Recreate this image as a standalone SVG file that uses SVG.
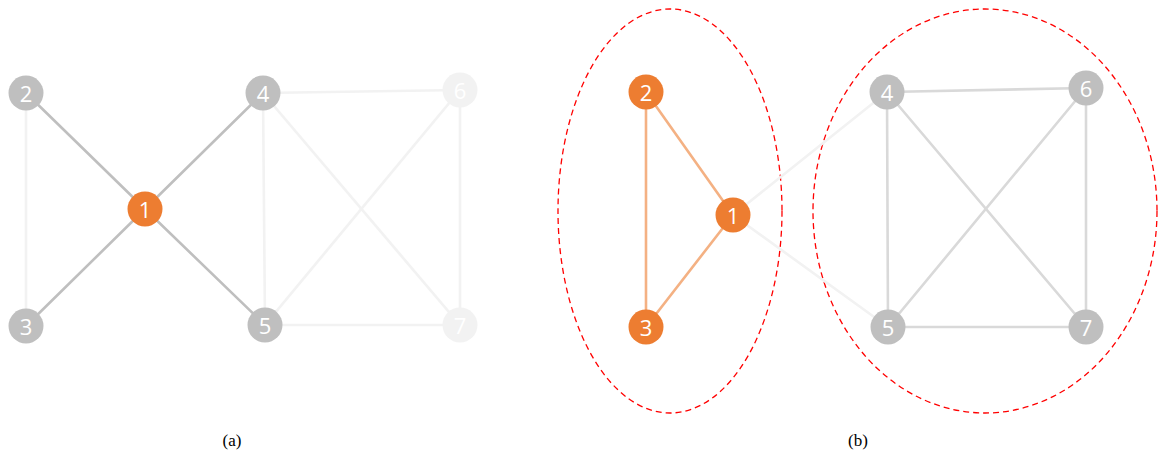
<svg xmlns="http://www.w3.org/2000/svg" width="1159" height="456" viewBox="0 0 1159 456">
  <style>
    .num { font-family: "Open Sans", "Liberation Sans", sans-serif; font-size: 22px; fill: #ffffff; text-anchor: middle; dominant-baseline: central; }
    .cap { font-family: "Liberation Serif", serif; font-size: 17px; fill: #000000; text-anchor: middle; }
    .e { stroke-width: 2.6; fill: none; stroke-linecap: round; }
    .dark { stroke: #bfbfbf; }
    .pale { stroke: #f2f2f2; }
    .mid { stroke: #d9d9d9; }
    .peach { stroke: #f4b183; }
    .n-orange { fill: #ed7d31; }
    .n-grey { fill: #bfbfbf; }
    .n-pale { fill: #f2f2f2; }
    .group { fill: none; stroke: #ff0000; stroke-width: 1.3; stroke-dasharray: 6 4; }
  </style>
  <rect width="1159" height="456" fill="#ffffff"/>

  <!-- panel (a): edges -->
  <g id="edges-a">
    <line class="e pale" x1="26" y1="93" x2="26" y2="326"/>
    <line class="e pale" x1="263" y1="93" x2="460" y2="90"/>
    <line class="e pale" x1="263" y1="93" x2="265" y2="325"/>
    <line class="e pale" x1="263" y1="93" x2="460" y2="325"/>
    <line class="e pale" x1="265" y1="325" x2="460" y2="90"/>
    <line class="e pale" x1="265" y1="325" x2="460" y2="325"/>
    <line class="e pale" x1="460" y1="90" x2="460" y2="325"/>
    <line class="e dark" x1="26" y1="93" x2="145" y2="209"/>
    <line class="e dark" x1="26" y1="326" x2="145" y2="209"/>
    <line class="e dark" x1="263" y1="93" x2="145" y2="209"/>
    <line class="e dark" x1="265" y1="325" x2="145" y2="209"/>
  </g>
  <!-- panel (a): nodes -->
  <g id="a-node-1"><circle class="n-orange" cx="145" cy="209" r="17.5"/><text class="num" x="145" y="209">1</text></g>
  <g id="a-node-2"><circle class="n-grey" cx="26" cy="93" r="17.5"/><text class="num" x="26" y="93">2</text></g>
  <g id="a-node-3"><circle class="n-grey" cx="26" cy="326" r="17.5"/><text class="num" x="26" y="326">3</text></g>
  <g id="a-node-4"><circle class="n-grey" cx="263" cy="93" r="17.5"/><text class="num" x="263" y="93">4</text></g>
  <g id="a-node-5"><circle class="n-grey" cx="265" cy="325" r="17.5"/><text class="num" x="265" y="325">5</text></g>
  <g id="a-node-6"><circle class="n-pale" cx="460" cy="90" r="17.5"/><text class="num" x="460" y="90">6</text></g>
  <g id="a-node-7"><circle class="n-pale" cx="460" cy="325" r="17.5"/><text class="num" x="460" y="325">7</text></g>
  <text class="cap" x="232" y="446">(a)</text>

  <!-- panel (b): community outlines -->
  <g id="community-left"><ellipse class="group" cx="670" cy="211" rx="112" ry="202"/></g>
  <g id="community-right"><ellipse class="group" cx="985" cy="211" rx="172" ry="202"/></g>

  <!-- panel (b): edges -->
  <g id="edges-b">
    <line class="e pale" x1="733" y1="215" x2="887" y2="92"/>
    <line class="e pale" x1="733" y1="215" x2="888" y2="327"/>
    <line class="e peach" x1="646" y1="92" x2="646" y2="327"/>
    <line class="e peach" x1="646" y1="92" x2="733" y2="215"/>
    <line class="e peach" x1="646" y1="327" x2="733" y2="215"/>
    <line class="e mid" x1="887" y1="92" x2="1086" y2="88"/>
    <line class="e mid" x1="887" y1="92" x2="888" y2="327"/>
    <line class="e mid" x1="887" y1="92" x2="1086" y2="327"/>
    <line class="e mid" x1="888" y1="327" x2="1086" y2="88"/>
    <line class="e mid" x1="888" y1="327" x2="1086" y2="327"/>
    <line class="e mid" x1="1086" y1="88" x2="1086" y2="327"/>
  </g>
  <!-- panel (b): nodes -->
  <g id="b-node-1"><circle class="n-orange" cx="733" cy="215" r="17.5"/><text class="num" x="733" y="215">1</text></g>
  <g id="b-node-2"><circle class="n-orange" cx="646" cy="92" r="17.5"/><text class="num" x="646" y="92">2</text></g>
  <g id="b-node-3"><circle class="n-orange" cx="646" cy="327" r="17.5"/><text class="num" x="646" y="327">3</text></g>
  <g id="b-node-4"><circle class="n-grey" cx="887" cy="92" r="17.5"/><text class="num" x="887" y="92">4</text></g>
  <g id="b-node-5"><circle class="n-grey" cx="888" cy="327" r="17.5"/><text class="num" x="888" y="327">5</text></g>
  <g id="b-node-6"><circle class="n-grey" cx="1086" cy="88" r="17.5"/><text class="num" x="1086" y="88">6</text></g>
  <g id="b-node-7"><circle class="n-grey" cx="1086" cy="327" r="17.5"/><text class="num" x="1086" y="327">7</text></g>
  <text class="cap" x="858" y="446">(b)</text>
</svg>
